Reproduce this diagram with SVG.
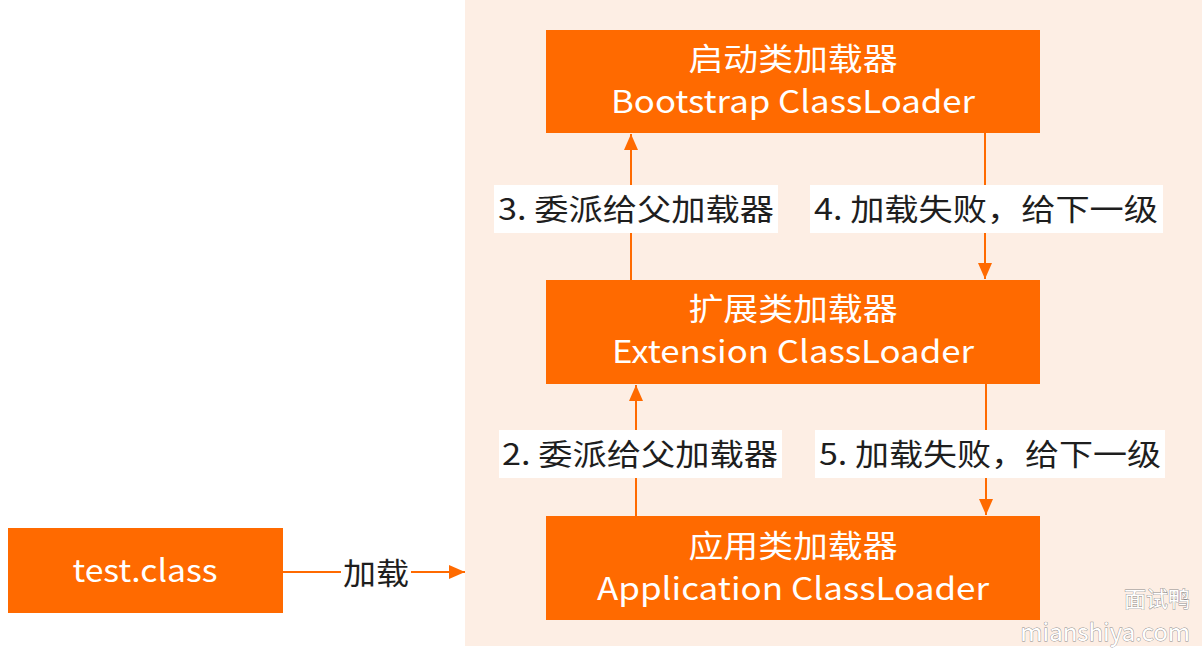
<svg xmlns="http://www.w3.org/2000/svg" width="1202" height="653" viewBox="0 0 1202 653">
<style>
.box{fill:#ff6a00}
.bt{fill:#ffffff;font-family:"Noto Sans CJK SC","Liberation Sans",sans-serif;font-size:31px;text-anchor:middle}
.lbg{fill:#ffffff}
.lt{fill:#1e1e1e;font-family:"Noto Sans CJK SC","Liberation Sans",sans-serif;font-size:30px;text-anchor:middle}
.ln{stroke:#ff6a00;stroke-width:2;fill:none}
.wm{fill:#ffffff;stroke:#8a8a8a;stroke-width:0.8;paint-order:stroke;font-family:"Noto Sans CJK SC","Liberation Sans",sans-serif;text-anchor:end}
</style>
<defs>
<marker id="ah" viewBox="0 0 16 14" refX="16" refY="7" markerWidth="16" markerHeight="14" markerUnits="userSpaceOnUse" orient="auto">
<path d="M0,0 L16,7 L0,14 Z" fill="#ff6a00"/>
</marker>
</defs>
<rect x="0" y="0" width="1202" height="653" fill="#ffffff"/>
<rect id="panel" x="465" y="0" width="737" height="646" fill="#fdeee4"/>
<g id="connectors">
<line class="ln" x1="283" y1="572" x2="465" y2="572" marker-end="url(#ah)"/>
<rect class="lbg" x="341" y="556" width="70" height="34"/>
<text class="lt" x="376" y="584" textLength="66" lengthAdjust="spacingAndGlyphs">加载</text>
<line class="ln" x1="631" y1="280" x2="631" y2="134" marker-end="url(#ah)"/>
<line class="ln" x1="985" y1="133" x2="985" y2="279" marker-end="url(#ah)"/>
<line class="ln" x1="636" y1="516" x2="636" y2="385" marker-end="url(#ah)"/>
<line class="ln" x1="986" y1="384" x2="986" y2="515" marker-end="url(#ah)"/>
<rect class="lbg" x="494" y="185" width="284" height="48"/>
<text class="lt" x="636" y="220" textLength="276" lengthAdjust="spacingAndGlyphs">3. 委派给父加载器</text>
<rect class="lbg" x="810" y="185" width="353" height="48"/>
<text class="lt" x="986" y="220" textLength="344" lengthAdjust="spacingAndGlyphs">4. 加载失败，给下一级</text>
<rect class="lbg" x="499" y="430" width="283" height="48"/>
<text class="lt" x="640" y="465" textLength="276" lengthAdjust="spacingAndGlyphs">2. 委派给父加载器</text>
<rect class="lbg" x="815" y="430" width="350" height="48"/>
<text class="lt" x="990" y="465" textLength="342" lengthAdjust="spacingAndGlyphs">5. 加载失败，给下一级</text>
</g>
<g id="test-class">
<rect class="box" x="8" y="528" width="275" height="85"/>
<text class="bt" x="145" y="582" textLength="145" lengthAdjust="spacingAndGlyphs">test.class</text>
</g>
<g id="bootstrap">
<rect class="box" x="546" y="30" width="494" height="103"/>
<text class="bt" x="793" y="70" textLength="209" lengthAdjust="spacingAndGlyphs">启动类加载器</text>
<text class="bt" x="793" y="113" textLength="364" lengthAdjust="spacingAndGlyphs">Bootstrap ClassLoader</text>
</g>
<g id="extension">
<rect class="box" x="546" y="280" width="494" height="104"/>
<text class="bt" x="793" y="320" textLength="209" lengthAdjust="spacingAndGlyphs">扩展类加载器</text>
<text class="bt" x="793" y="363" textLength="362" lengthAdjust="spacingAndGlyphs">Extension ClassLoader</text>
</g>
<g id="application">
<rect class="box" x="546" y="516" width="494" height="104"/>
<text class="bt" x="793" y="557" textLength="209" lengthAdjust="spacingAndGlyphs">应用类加载器</text>
<text class="bt" x="793" y="600" textLength="392" lengthAdjust="spacingAndGlyphs">Application ClassLoader</text>
</g>
<g id="watermark">
<text class="wm" x="1190" y="607" font-size="22">面试鸭</text>
<text class="wm" x="1190" y="641" font-size="24">mianshiya.com</text>
</g>
</svg>
